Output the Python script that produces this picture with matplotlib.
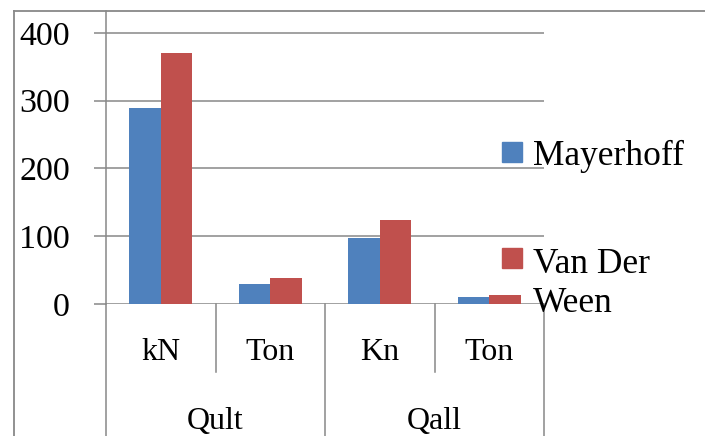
import numpy as np
import matplotlib.pyplot as plt
from matplotlib.lines import Line2D
from matplotlib.patches import Rectangle

plt.rcParams['font.family'] = ['Liberation Serif', 'DejaVu Serif']

# bearing capacity, ultimate and allowable, in kN and ton
units = ["kN", "Ton", "Kn", "Ton"]
groups = ["Qult", "Qall"]
series_names = ["Mayerhoff", "Van Der\nWeen"]
mayerhoff = [290.0, 29.6, 96.7, 9.9]
van_der_ween = [370.0, 37.7, 123.3, 12.6]
yticks = [0, 100, 200, 300, 400]

colors = ["#4F81BD", "#C0504D"]
gray = "#888888"

W, H = 705, 436
fig = plt.figure(figsize=(W / 100, H / 100), dpi=100)
ax = fig.add_axes([106 / W, (H - 304) / H, (544 - 106) / W, (304 - 11) / H])

x = np.arange(len(units))
bw = 0.2875
ax.bar(x - bw / 2, mayerhoff, bw, color=colors[0], zorder=3)
ax.bar(x + bw / 2, van_der_ween, bw, color=colors[1], zorder=3)

ax.set_xlim(-0.5, len(units) - 0.5)
ax.set_ylim(0, 400 * 293 / 271)
ax.set_yticks(yticks)
ax.set_xticks([])
ax.yaxis.grid(True, color=gray, lw=1.1, zorder=1)
ax.tick_params(axis='y', length=9, width=1.1, color=gray, pad=17, labelsize=24.5)
for s in ['top', 'right', 'bottom']:
    ax.spines[s].set_visible(False)
ax.spines['left'].set_color(gray)
ax.spines['left'].set_linewidth(1.1)

# category axis below the plot: unit labels, then group labels
tr = ax.get_xaxis_transform()
for i, u in enumerate(units):
    ax.text(x[i], -0.167, u, transform=tr, ha='center', va='center', fontsize=23)
for k, g in enumerate(groups):
    ax.text(2 * k + 0.5, -0.40, g, transform=tr, ha='center', va='center', fontsize=23)
for xe in np.arange(-0.5, len(units), 1.0):
    bottom = -0.46 if (xe + 0.5) % 2 == 0 else -0.233
    ax.plot([xe, xe], [0, bottom], transform=tr, color=gray, lw=1.1, clip_on=False)

# outer chart border
fig.add_artist(Line2D([14 / W, 14 / W], [0, 1 - 11 / H], color=gray, lw=1.3))
fig.add_artist(Line2D([14 / W, 1], [1 - 11 / H, 1 - 11 / H], color=gray, lw=1.3))

# legend (text placed by the baseline of its last line)
for name, c, ytop, ybase in zip(series_names, colors, [142, 248], [165, 312]):
    fig.add_artist(Rectangle((502 / W, 1 - (ytop + 20) / H), 20 / W, 20 / H,
                             color=c, transform=fig.transFigure))
    fig.text(533 / W, 1 - ybase / H, name, ha='left', va='baseline',
             fontsize=25.5, linespacing=1.26)

fig.savefig("out.png", dpi=100)
